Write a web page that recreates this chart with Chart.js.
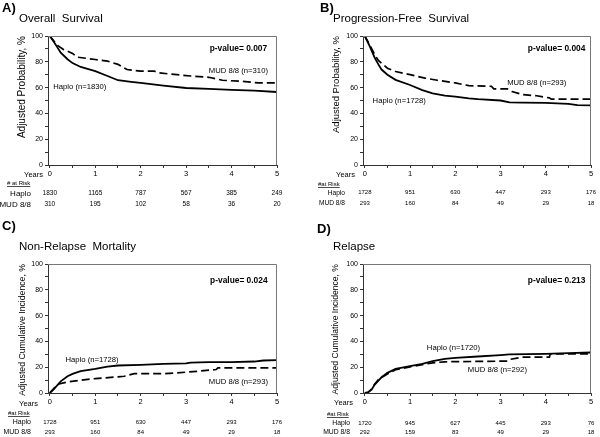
<!DOCTYPE html>
<html>
<head>
<meta charset="utf-8">
<script src="https://cdn.jsdelivr.net/npm/chart.js@4"></script>
<style>
  body { margin: 0; background: #fff; width: 600px; height: 437px; position: relative; overflow: hidden; }
  canvas { position: absolute; }
</style>
</head>
<body>
<canvas id="os" width="300" height="218" style="left:0;top:0"></canvas>
<canvas id="pfs" width="300" height="218" style="left:300px;top:0"></canvas>
<canvas id="nrm" width="300" height="219" style="left:0;top:218px"></canvas>
<canvas id="rel" width="300" height="219" style="left:300px;top:218px"></canvas>
<script>
const FONT = "'Liberation Sans', Arial, sans-serif";

const riskYears = [0, 1, 2, 3, 4, 5];
const yearTicks = [0, 0.5, 1, 1.5, 2, 2.5, 3, 3.5, 4, 4.5, 5];
const pctTicks = [0, 10, 20, 30, 40, 50, 60, 70, 80, 90, 100];

// A) overall survival  [years, %]
const osHaplo = [[0,100],[0.08,96],[0.17,91],[0.24,87],[0.39,82],[0.5,79],[0.68,76],[1,72.7],[1.27,69],[1.5,65.7],[1.79,64.4],[2,63.6],[2.5,61.6],[3,59.7],[3.5,59],[4,58.2],[4.5,57.7],[5,56.6]];
const osMud = [[0,100],[0.17,92.7],[0.3,89.6],[0.5,86.5],[0.6,83.6],[1,81.8],[1.27,80.5],[1.5,78],[1.7,74],[2,72.7],[2.3,72.7],[2.4,71.4],[2.8,70],[3.1,69],[3.5,68],[3.8,65.7],[4.3,64.7],[4.6,63.6],[5,63.6]];
const osRiskHaplo = [1830, 1165, 787, 567, 385, 249];
const osRiskMud = [310, 195, 102, 58, 36, 20];

// B) progression-free survival
const pfsHaplo = [[0,100],[0.11,92],[0.22,83],[0.3,78],[0.37,74],[0.5,70],[0.68,66],[1,62],[1.27,58],[1.5,55.6],[1.77,53.8],[2,53],[2.3,51.7],[2.5,51],[3,50],[3.2,48.6],[3.5,48.4],[4,48.2],[4.5,47.4],[4.7,46.4],[5,46.2]];
const pfsMud = [[0,100],[0.11,93],[0.22,85.5],[0.3,81],[0.5,75],[0.68,72.5],[1,70],[1.33,67.4],[1.6,65.7],[2,63.6],[2.3,61.5],[2.8,61],[2.85,59],[3.15,59],[3.25,57],[3.5,54.5],[3.8,53.7],[4.08,52],[4.12,51],[5,51]];
const pfsRiskHaplo = [1728, 951, 630, 447, 293, 176];
const pfsRiskMud = [293, 160, 84, 49, 29, 18];

// C) non-relapse mortality
const nrmHaplo = [[0,0],[0.1,3.4],[0.24,9],[0.39,13],[0.5,14.8],[0.68,17],[1,18.7],[1.27,20.5],[1.5,21.3],[2,21.8],[2.5,22.6],[3,22.9],[3.1,23.6],[3.5,23.9],[4,23.9],[4.5,24.4],[4.7,25.2],[5,25.5]];
const nrmMud = [[0,0],[0.1,4],[0.2,7],[0.39,8.6],[0.68,9.9],[1,11.2],[1.5,12.5],[1.64,13],[1.86,15],[2.5,15],[2.8,15.6],[3.3,17],[3.66,18.2],[3.7,19.5],[5,19.5]];
const nrmRiskHaplo = [1728, 951, 630, 447, 293, 176];
const nrmRiskMud = [293, 160, 84, 49, 29, 18];

// D) relapse
const relHaplo = [[0,0],[0.07,0.5],[0.15,2.6],[0.22,6.5],[0.3,9.6],[0.37,12.2],[0.5,15.6],[0.68,18.7],[1,20.8],[1.27,22.6],[1.5,24.7],[1.77,26.5],[2,27.3],[2.5,28.3],[3,29.4],[3.2,29.9],[4,30.4],[4.5,30.9],[5,31.4]];
const relMud = [[0,0],[0.07,0.5],[0.15,3],[0.22,7],[0.3,10.4],[0.5,14.8],[0.68,18],[1,20.3],[1.27,22],[1.5,23.4],[1.77,24.2],[3.15,24.7],[3.2,26],[3.5,27.8],[4.08,27.8],[4.1,30.4],[5,30.4]];
const relRiskHaplo = [1720, 945, 627, 445, 293, 76];
const relRiskMud = [292, 159, 83, 49, 29, 18];

const panelText = {
  id: 'panelText',
  afterDraw(chart, args, o) {
    const { ctx, chartArea: a, scales: { x, y } } = chart;
    ctx.save();
    // box round the plot
    ctx.strokeStyle = '#777';
    ctx.lineWidth = 1;
    ctx.beginPath();
    ctx.moveTo(a.left, a.top + 0.5);
    ctx.lineTo(a.right - 0.5, a.top + 0.5);
    ctx.lineTo(a.right - 0.5, a.bottom);
    ctx.stroke();

    ctx.fillStyle = '#000';
    ctx.textBaseline = 'middle';
    ctx.textAlign = 'left';
    ctx.font = 'bold 13px ' + FONT;
    ctx.fillText(o.letter[0], o.letter[1], o.letter[2]);
    ctx.font = '11.5px ' + FONT;
    ctx.fillText(o.title[0], o.title[1], o.title[2]);

    ctx.textAlign = 'center';
    ctx.font = 'bold 8.4px ' + FONT;
    ctx.fillText(o.pval[0], x.getPixelForValue(o.pval[1]), y.getPixelForValue(o.pval[2]));
    ctx.font = '7.7px ' + FONT;
    ctx.fillText(o.haploLab[0], x.getPixelForValue(o.haploLab[1]), y.getPixelForValue(o.haploLab[2]));
    ctx.fillText(o.mudLab[0], x.getPixelForValue(o.mudLab[1]), y.getPixelForValue(o.mudLab[2]));

    // years label and at-risk table
    const r = o.rows;
    ctx.textAlign = 'right';
    ctx.font = '7.5px ' + FONT;
    ctx.fillText('Years', o.yearsRight, a.bottom + r[0]);
    ctx.textAlign = 'left';
    ctx.font = '6px ' + FONT;
    ctx.fillText(o.riskHead, o.headLeft, a.bottom + r[1]);
    const w = ctx.measureText(o.riskHead).width;
    ctx.fillRect(o.headLeft, a.bottom + r[1] + 3, w, 0.7);
    ctx.textAlign = 'right';
    ctx.font = o.rowFont + 'px ' + FONT;
    ctx.fillText('Haplo', o.rowRight, a.bottom + r[2]);
    ctx.fillText('MUD 8/8', o.rowRight, a.bottom + r[3]);
    ctx.textAlign = 'center';
    ctx.font = o.numFont + 'px ' + FONT;
    riskYears.forEach((yr, i) => {
      ctx.fillText(String(o.riskHaplo[i]), x.getPixelForValue(yr), a.bottom + r[2]);
      ctx.fillText(String(o.riskMud[i]), x.getPixelForValue(yr), a.bottom + r[3]);
    });
    ctx.restore();
  }
};

function makePanel(id, p) {
  new Chart(document.getElementById(id), {
    type: 'line',
    data: {
      datasets: [
        { label: 'Haplo', data: p.haplo, borderColor: '#000', borderWidth: 1.8, pointRadius: 0, tension: 0 },
        { label: 'MUD 8/8', data: p.mud, borderColor: '#000', borderWidth: 1.7, borderDash: [8, 4], pointRadius: 0, tension: 0 }
      ]
    },
    options: {
      responsive: false,
      animation: false,
      layout: { padding: { left: 0, right: p.padRight, top: p.padTop, bottom: p.padBottom } },
      plugins: {
        legend: { display: false },
        tooltip: { enabled: false },
        panelText: p.text
      },
      scales: {
        x: {
          type: 'linear',
          min: -0.04,
          max: 5,
          afterBuildTicks: s => { s.ticks = yearTicks.map(v => ({ value: v })); },
          afterFit: s => { s.height = 12; },
          grid: { drawOnChartArea: false, drawTicks: true, tickLength: 3, color: '#333' },
          border: { display: true, color: '#333', width: 1 },
          ticks: {
            autoSkip: false, maxRotation: 0, padding: 1, color: '#000',
            font: { family: FONT, size: 7.5 },
            callback: v => (Number.isInteger(v) ? String(v) : '')
          }
        },
        y: {
          min: 0,
          max: 100,
          afterBuildTicks: s => { s.ticks = pctTicks.map(v => ({ value: v })); },
          afterFit: s => { s.width = p.yWidth; },
          grid: { drawOnChartArea: false, drawTicks: true, tickLength: 3, color: '#333' },
          border: { display: true, color: '#333', width: 1 },
          ticks: {
            autoSkip: false, padding: 2, color: '#000',
            font: { family: FONT, size: 7 },
            callback: v => (v % 20 === 0 ? String(v) : '')
          },
          title: {
            display: true, text: p.yTitle, align: 'end', color: '#000',
            font: { family: FONT, size: p.yTitleSize },
            padding: { top: p.yTitlePad, bottom: 0 }
          }
        }
      }
    },
    plugins: [panelText]
  });
}

makePanel('os', {
  haplo: osHaplo, mud: osMud,
  padRight: 23, padTop: 36, padBottom: 41, yWidth: 48,
  yTitle: 'Adjusted Probability, %', yTitleSize: 10, yTitlePad: 16.5,
  text: {
    letter: ['A)', 2, 8], title: ['Overall  Survival', 19, 19],
    pval: ['p-value= 0.007', 4.15, 90],
    mudLab: ['MUD 8/8 (n=310)', 4.15, 73],
    haploLab: ['Haplo (n=1830)', 0.66, 60.5],
    rows: [10, 18.3, 28.3, 39.3], yearsRight: 43, headLeft: 7, riskHead: '# at Risk',
    rowRight: 31, rowFont: 8, numFont: 6.5,
    riskHaplo: osRiskHaplo, riskMud: osRiskMud
  }
});

makePanel('pfs', {
  haplo: pfsHaplo, mud: pfsMud,
  padRight: 9, padTop: 36, padBottom: 41, yWidth: 63,
  yTitle: 'Adjusted Probability, %', yTitleSize: 9.5, yTitlePad: 30.8,
  text: {
    letter: ['B)', 20, 8], title: ['Progression-Free  Survival', 33, 19],
    pval: ['p-value= 0.004', 4.24, 90],
    mudLab: ['MUD 8/8 (n=293)', 3.8, 63.6],
    haploLab: ['Haplo (n=1728)', 0.76, 49.6],
    rows: [10, 19, 27.7, 38], yearsRight: 55, headLeft: 18, riskHead: '#at Risk',
    rowRight: 45, rowFont: 6.6, numFont: 6,
    riskHaplo: pfsRiskHaplo, riskMud: pfsRiskMud
  }
});

makePanel('nrm', {
  haplo: nrmHaplo, mud: nrmMud,
  padRight: 23, padTop: 46, padBottom: 32, yWidth: 48,
  yTitle: 'Adjusted Cumulative Incidence, %', yTitleSize: 8.7, yTitlePad: 17.8,
  text: {
    letter: ['C)', 2, 8], title: ['Non-Relapse  Mortality', 19, 29],
    pval: ['p-value= 0.024', 4.16, 86.8],
    mudLab: ['MUD 8/8 (n=293)', 4.15, 8.5],
    haploLab: ['Haplo (n=1728)', 0.93, 25.6],
    rows: [11, 20.3, 29.3, 39.3], yearsRight: 38, headLeft: 8, riskHead: '#at Risk',
    rowRight: 31, rowFont: 7, numFont: 6,
    riskHaplo: nrmRiskHaplo, riskMud: nrmRiskMud
  }
});

makePanel('rel', {
  haplo: relHaplo, mud: relMud,
  padRight: 9, padTop: 46, padBottom: 32, yWidth: 63,
  yTitle: 'Adjusted Cumulative Incidence, %', yTitleSize: 8.6, yTitlePad: 30.3,
  text: {
    letter: ['D)', 17, 11.5], title: ['Relapse', 33, 29],
    pval: ['p-value= 0.213', 4.24, 86.8],
    mudLab: ['MUD 8/8 (n=292)', 2.93, 17.8],
    haploLab: ['Haplo (n=1720)', 1.96, 34.9],
    rows: [10.3, 21.3, 30.3, 39.3], yearsRight: 53, headLeft: 27, riskHead: '#at Risk',
    rowRight: 50, rowFont: 6.8, numFont: 6,
    riskHaplo: relRiskHaplo, riskMud: relRiskMud
  }
});
</script>
</body>
</html>
